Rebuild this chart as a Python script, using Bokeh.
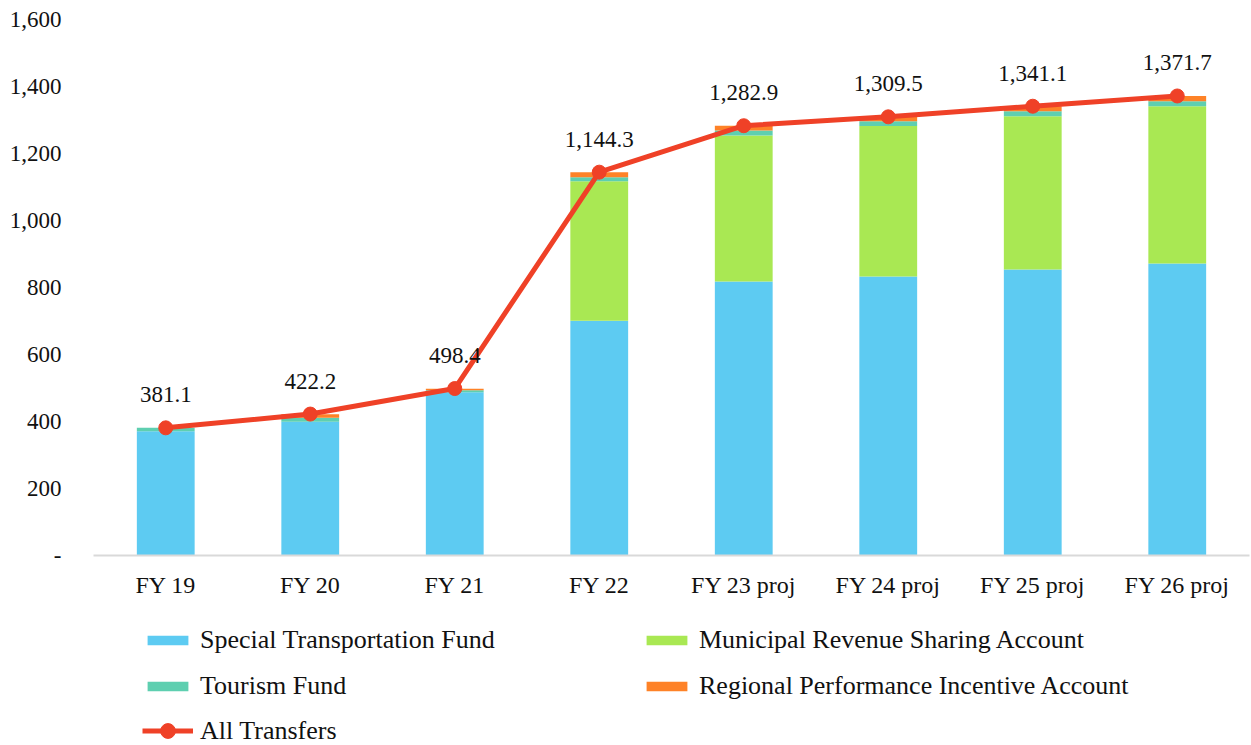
from bokeh.plotting import figure
from bokeh.layouts import column
from bokeh.models import (ColumnDataSource, FactorRange, Range1d, FixedTicker, NumeralTickFormatter,
                          LabelSet, Legend, LegendItem)
from bokeh.embed import file_html
from bokeh.resources import INLINE

years = ["FY 19", "FY 20", "FY 21", "FY 22", "FY 23 proj", "FY 24 proj", "FY 25 proj", "FY 26 proj"]
stf = [371, 399, 487, 701, 818, 833, 854, 872]
mrs = [0, 0, 0, 416, 436, 449, 457, 469]
tourism = [10, 12, 6, 12, 15, 14, 15, 15]
rpia = [0, 11, 5, 15, 14, 14, 15, 16]
all_transfers = [381.1, 422.2, 498.4, 1144.3, 1282.9, 1309.5, 1341.1, 1371.7]
y_ticks = [0, 200, 400, 600, 800, 1000, 1200, 1400, 1600]

series = ["stf", "mrs", "tourism", "rpia"]
names = ["Special Transportation Fund", "Municipal Revenue Sharing Account",
         "Tourism Fund", "Regional Performance Incentive Account"]
colors = ["#5DCBF2", "#A9E853", "#5ECFB0", "#FE8227"]
RED = "#EF4127"
FONT = "Liberation Serif"

src = ColumnDataSource(dict(years=years, stf=stf, mrs=mrs, tourism=tourism, rpia=rpia,
                            total=all_transfers,
                            lbl=[f"{v:,.1f}" for v in all_transfers]))

p = figure(width=1251, height=612, x_range=FactorRange(*years, range_padding=0),
           y_range=Range1d(0, 1600), output_backend="svg", toolbar_location=None,
           min_border_left=93, min_border_right=2, min_border_top=19, min_border_bottom=57)
p.outline_line_color = None
p.xgrid.grid_line_color = None
p.ygrid.grid_line_color = None

bars = p.vbar_stack(series, x="years", width=0.4, color=colors, line_color=None, source=src)
line = p.line("years", "total", source=src, line_color=RED, line_width=5)
dots = p.scatter("years", "total", source=src, size=14, fill_color=RED, line_color=RED)

labels = LabelSet(x="years", y="total", text="lbl", source=src, y_offset=33,
                  text_align="center", text_baseline="middle",
                  text_font=FONT, text_font_size="23px", text_color="#111111")
p.add_layout(labels)

p.yaxis.ticker = FixedTicker(ticks=y_ticks)
p.yaxis.formatter = NumeralTickFormatter(format="0,0")
p.yaxis.major_label_overrides = {0: "-"}
p.yaxis.axis_line_color = None
p.yaxis.major_tick_line_color = None
p.yaxis.minor_tick_line_color = None
p.yaxis.major_label_standoff = 26
p.yaxis.major_label_text_font = FONT
p.yaxis.major_label_text_font_size = "23px"
p.yaxis.major_label_text_color = "#111111"

p.xaxis.axis_line_color = "#D9D9D9"
p.xaxis.axis_line_width = 2
p.xaxis.major_tick_line_color = None
p.xaxis.minor_tick_line_color = None
p.xaxis.major_label_standoff = 10
p.xaxis.major_label_text_font = FONT
p.xaxis.major_label_text_font_size = "24px"
p.xaxis.major_label_text_color = "#111111"

# legend panel (its own figure below the chart; its frame aligns with the chart frame)
lp = figure(width=1251, height=133, x_range=Range1d(0, 10), y_range=Range1d(0, 10),
            output_backend="svg", toolbar_location=None, x_axis_location=None, y_axis_location=None,
            min_border_left=0, min_border_right=0, min_border_top=0, min_border_bottom=0)
lp.outline_line_color = None
lp.xgrid.grid_line_color = None
lp.ygrid.grid_line_color = None
hidden = ColumnDataSource(dict(x=[-100, -90], y=[-100, -100], top=[-100, -100]))
lbars = [lp.vbar(x="x", top="top", bottom=-200, width=1, color=c, line_color=None, source=hidden)
         for c in colors]
lline = lp.line("x", "y", source=hidden, line_color=RED, line_width=5)
ldots = lp.scatter("x", "y", source=hidden, size=14, fill_color=RED, line_color=RED)

def make_legend(items, loc, gh=12):
    return Legend(items=items, location=loc, orientation="vertical",
                  glyph_width=51, glyph_height=gh, label_standoff=7,
                  label_text_font=FONT, label_text_font_size="26px", label_text_color="#111111",
                  label_height=25, spacing=16, padding=0, margin=0,
                  border_line_color=None, background_fill_alpha=0)

leg1 = make_legend([LegendItem(label=names[0], renderers=[lbars[0]]),
                    LegendItem(label=names[2], renderers=[lbars[2]])], (49, 44))
leg2 = make_legend([LegendItem(label=names[1], renderers=[lbars[1]]),
                    LegendItem(label=names[3], renderers=[lbars[3]])], (548, 44))
leg3 = make_legend([LegendItem(label="All Transfers", renderers=[lline, ldots])], (49, -4), gh=37)
lp.add_layout(leg1)
lp.add_layout(leg2)
lp.add_layout(leg3)

layout = column(p, lp, spacing=0)
open("out.html", "w").write(file_html(layout, INLINE))
